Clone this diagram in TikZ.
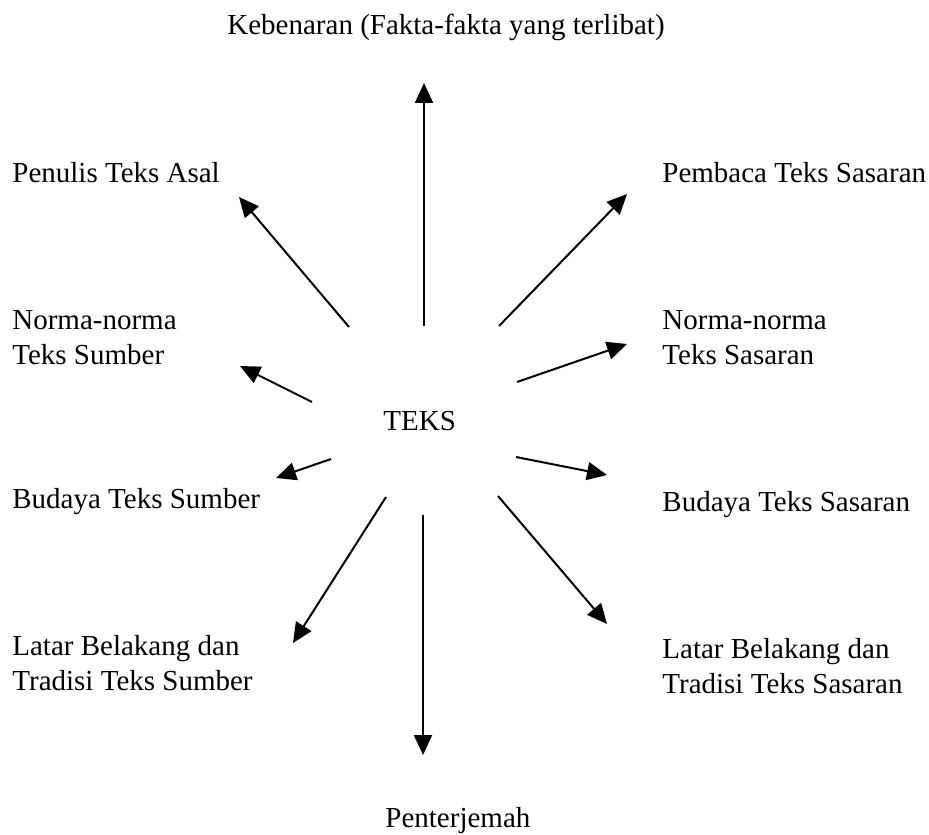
\documentclass[tikz,border=0pt]{standalone}
\usepackage{fontspec}
\setmainfont{Liberation Serif}
\usetikzlibrary{arrows.meta}

\begin{document}
\begin{tikzpicture}[x=0.5pt, y=-0.5pt]
\tikzstyle{tulisan}=[anchor=base west, inner sep=0pt, align=left, font=\fontsize{14.5}{17.5}\selectfont]
\tikzstyle{panah}=[line width=1pt, -{Triangle[length=10pt, width=9pt]}]

\useasboundingbox (0,0) rectangle (929,834);

\draw (227,35) node[tulisan] (kebenaran) {Kebenaran (Fakta-fakta yang terlibat)};
\draw (12,183) node[tulisan] (penulis) {Penulis Teks Asal};
\draw (662,183) node[tulisan] (pembaca) {Pembaca Teks Sasaran};
\draw (12,364) node[tulisan] (normasumber) {Norma-norma\\Teks Sumber};
\draw (662,364) node[tulisan] (normasasaran) {Norma-norma\\Teks Sasaran};
\draw (383,430) node[tulisan] (teks) {TEKS};
\draw (12,508) node[tulisan] (budayasumber) {Budaya Teks Sumber};
\draw (662,511) node[tulisan] (budayasasaran) {Budaya Teks Sasaran};
\draw (12,690) node[tulisan] (latarsumber) {Latar Belakang dan\\Tradisi Teks Sumber};
\draw (662,693) node[tulisan] (latarsasaran) {Latar Belakang dan\\Tradisi Teks Sasaran};
\draw (385,827) node[tulisan] (penterjemah) {Penterjemah};

% ujung-ujung panah
\coordinate (from-kebenaran) at (424,326);
\coordinate (to-kebenaran) at (424,83);
\coordinate (from-penulis) at (349,327);
\coordinate (to-penulis) at (239,197);
\coordinate (from-pembaca) at (499,326);
\coordinate (to-pembaca) at (627,194);
\coordinate (from-normasumber) at (312,402);
\coordinate (to-normasumber) at (240,366);
\coordinate (from-normasasaran) at (517,382);
\coordinate (to-normasasaran) at (627,344);
\coordinate (from-budayasumber) at (331,459);
\coordinate (to-budayasumber) at (276,478);
\coordinate (from-budayasasaran) at (516,457);
\coordinate (to-budayasasaran) at (607,475);
\coordinate (from-latarsumber) at (386,497);
\coordinate (to-latarsumber) at (293,643);
\coordinate (from-latarsasaran) at (498,496);
\coordinate (to-latarsasaran) at (607,624);
\coordinate (from-penterjemah) at (423,515);
\coordinate (to-penterjemah) at (423,755);

\draw[panah] (from-kebenaran) -- (to-kebenaran);
\draw[panah] (from-penulis) -- (to-penulis);
\draw[panah] (from-pembaca) -- (to-pembaca);
\draw[panah] (from-normasumber) -- (to-normasumber);
\draw[panah] (from-normasasaran) -- (to-normasasaran);
\draw[panah] (from-budayasumber) -- (to-budayasumber);
\draw[panah] (from-budayasasaran) -- (to-budayasasaran);
\draw[panah] (from-latarsumber) -- (to-latarsumber);
\draw[panah] (from-latarsasaran) -- (to-latarsasaran);
\draw[panah] (from-penterjemah) -- (to-penterjemah);
\end{tikzpicture}
\end{document}
